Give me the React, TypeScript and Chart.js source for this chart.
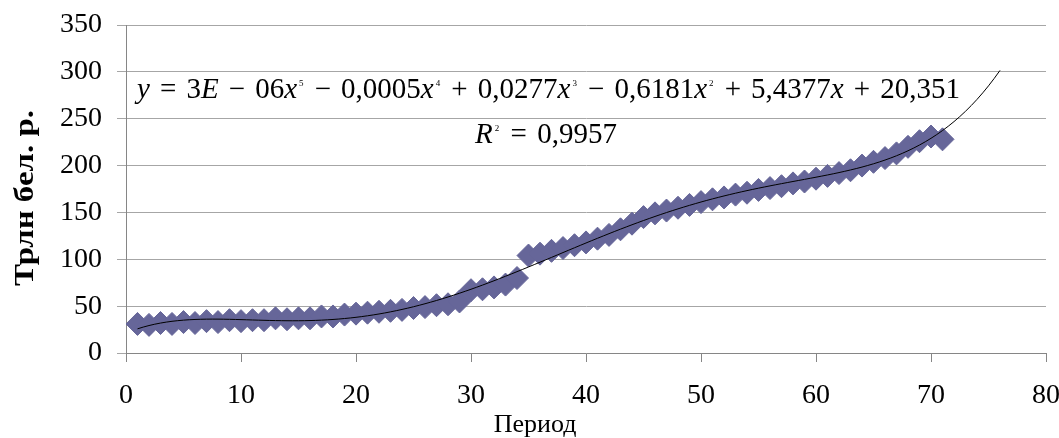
import React, { useEffect, useRef } from 'react';
import { Chart, registerables } from 'chart.js';
Chart.register(...registerables);

const FONT = "'Liberation Serif', 'Times New Roman', serif";

const periods = [
  1, 2, 3, 4, 5, 6, 7, 8, 9, 10, 11, 12, 13, 14, 15, 16, 17, 18, 19, 20,
  21, 22, 23, 24, 25, 26, 27, 28, 29, 30, 31, 32, 33, 34, 35, 36, 37, 38, 39, 40,
  41, 42, 43, 44, 45, 46, 47, 48, 49, 50, 51, 52, 53, 54, 55, 56, 57, 58, 59, 60,
  61, 62, 63, 64, 65, 66, 67, 68, 69, 70, 71,
];
const values = [
  31, 30, 32, 31, 33, 32, 34, 33, 35, 34, 35, 35, 37, 36, 37, 37, 39, 39, 41, 42,
  43, 44, 45, 46, 48, 49, 51, 52, 55, 67, 68, 70, 73, 80, 104, 106, 109, 112, 115, 118,
  122, 126, 132, 138, 145, 149, 152, 155, 158, 161, 164, 166, 169, 171, 174, 176, 178, 181, 183, 186,
  189, 192, 195, 200, 204, 208, 213, 220, 226, 231, 228,
];
const trendForwardTo = 76;
const polyDegree = 5;

const yTitle = 'Трлн бел. р.';
const xTitle = 'Период';
const eqParts: [string, string][] = [
  ['y', 'i'], ['=', 'op'], ['3', 'n'], ['E', 'i'], ['−', 'op'], ['06', 'n'], ['x', 'i'], ['5', 's'],
  ['−', 'op'], ['0,0005', 'n'], ['x', 'i'], ['4', 's'],
  ['+', 'op'], ['0,0277', 'n'], ['x', 'i'], ['3', 's'],
  ['−', 'op'], ['0,6181', 'n'], ['x', 'i'], ['2', 's'],
  ['+', 'op'], ['5,4377', 'n'], ['x', 'i'],
  ['+', 'op'], ['20,351', 'n'],
];
const r2Parts: [string, string][] = [['R', 'i'], ['2', 's'], ['=', 'op'], ['0,9957', 'n']];

function polyFit(xs: number[], ys: number[], deg: number) {
  const c = 36, s = 35;
  const n = deg + 1;
  const A: number[][] = [];
  for (let i = 0; i < n; i++) A.push(new Array(n + 1).fill(0));
  for (let k = 0; k < xs.length; k++) {
    const t = (xs[k] - c) / s;
    const pw = [1];
    for (let i = 1; i < 2 * n; i++) pw.push(pw[i - 1] * t);
    for (let i = 0; i < n; i++) {
      for (let j = 0; j < n; j++) A[i][j] += pw[i + j];
      A[i][n] += pw[i] * ys[k];
    }
  }
  for (let i = 0; i < n; i++) {
    let p = i;
    for (let r = i + 1; r < n; r++) if (Math.abs(A[r][i]) > Math.abs(A[p][i])) p = r;
    const tmp = A[i]; A[i] = A[p]; A[p] = tmp;
    for (let r = 0; r < n; r++) {
      if (r === i) continue;
      const f = A[r][i] / A[i][i];
      for (let cc = i; cc <= n; cc++) A[r][cc] -= f * A[i][cc];
    }
  }
  const coef = A.map((row, i) => row[n] / row[i]);
  return (x: number) => {
    const t = (x - c) / s;
    let v = 0;
    for (let i = n - 1; i >= 0; i--) v = v * t + coef[i];
    return v;
  };
}

function fontFor(kind: string) {
  if (kind === 'i') return `italic 29px ${FONT}`;
  if (kind === 's') return `9px ${FONT}`;
  return `29px ${FONT}`;
}

function drawParts(ctx: CanvasRenderingContext2D, parts: [string, string][], x0: number, baseline: number, x1: number) {
  let w0 = 0;
  let nOps = 0;
  const widths = parts.map(([t, k]) => {
    ctx.font = fontFor(k);
    const w = ctx.measureText(t).width + (k === 's' ? 3 : 0);
    if (k === 'op') nOps++;
    w0 += w;
    return w;
  });
  const gap = Math.max(2, (x1 - x0 - w0) / (nOps * 2));
  let x = x0;
  ctx.fillStyle = '#000';
  ctx.textBaseline = 'alphabetic';
  ctx.textAlign = 'left';
  parts.forEach(([t, k], i) => {
    ctx.font = fontFor(k);
    if (k === 'op') x += gap;
    if (k === 's') ctx.fillText(t, x + 2, baseline - 12);
    else ctx.fillText(t, x, baseline);
    x += widths[i];
    if (k === 'op') x += gap;
  });
}

const textPlugin = {
  id: 'textPlugin',
  afterDraw(chart: any) {
    const ctx: CanvasRenderingContext2D = chart.ctx;
    ctx.save();
    drawParts(ctx, eqParts, 137, 98, 960);
    drawParts(ctx, r2Parts, 475, 143, 617);
    ctx.save();
    ctx.translate(26, 198);
    ctx.rotate(-Math.PI / 2);
    ctx.scale(1.22, 1);
    ctx.font = `bold 27px ${FONT}`;
    ctx.textAlign = 'center';
    ctx.textBaseline = 'middle';
    ctx.fillStyle = '#000';
    ctx.fillText(yTitle, 0, 0);
    ctx.restore();
    ctx.font = `26px ${FONT}`;
    ctx.textAlign = 'center';
    ctx.textBaseline = 'alphabetic';
    ctx.fillStyle = '#000';
    ctx.fillText(xTitle, 535, 432);
    ctx.restore();
  },
};

export default function App() {
  const ref = useRef<HTMLCanvasElement | null>(null);
  useEffect(() => {
    if (!ref.current) return;
    const fit = polyFit(periods, values, polyDegree);
    const trend: { x: number; y: number }[] = [];
    for (let x = periods[0]; x <= trendForwardTo + 1e-9; x += 0.5) trend.push({ x, y: fit(x) });
    const points = periods.map((p, i) => ({ x: p, y: values[i] }));
    const chart = new Chart(ref.current, {
      type: 'scatter',
      data: {
        datasets: [
          {
            type: 'line',
            data: trend,
            borderColor: '#000',
            borderWidth: 1,
            pointRadius: 0,
            tension: 0,
            fill: false,
            order: 0,
          } as any,
          {
            data: points,
            pointStyle: 'rectRot',
            pointRadius: 11.5,
            backgroundColor: '#666699',
            borderColor: '#666699',
            borderWidth: 1,
            order: 1,
          },
        ],
      },
      options: {
        animation: false,
        responsive: false,
        devicePixelRatio: 1,
        layout: { padding: 0 },
        plugins: { legend: { display: false }, tooltip: { enabled: false } },
        scales: {
          x: {
            type: 'linear',
            min: 0,
            max: 80,
            ticks: { stepSize: 10, color: '#000', font: { family: FONT, size: 28 }, padding: 17, maxRotation: 0 },
            grid: { display: true, drawOnChartArea: false, tickLength: 9, color: '#868686' },
            border: { color: '#868686', width: 1 },
            afterFit: (s: any) => { s.height = 85; s.paddingRight = 13; s.paddingLeft = 0; },
          },
          y: {
            min: 0,
            max: 350,
            ticks: { stepSize: 50, color: '#000', font: { family: FONT, size: 28 }, padding: 15 },
            grid: { color: '#a6a6a6', tickLength: 9 },
            border: { color: '#868686', width: 1 },
            afterFit: (s: any) => { s.width = 126; s.paddingTop = 25; s.paddingBottom = 0; },
          },
        },
      },
      plugins: [textPlugin],
    });
    return () => chart.destroy();
  }, []);
  return (
    <div style={{ position: 'absolute', left: 0, top: 0, width: 1059, height: 438, background: '#fff' }}>
      <canvas ref={ref} width={1059} height={438} style={{ display: 'block' }} />
    </div>
  );
}
